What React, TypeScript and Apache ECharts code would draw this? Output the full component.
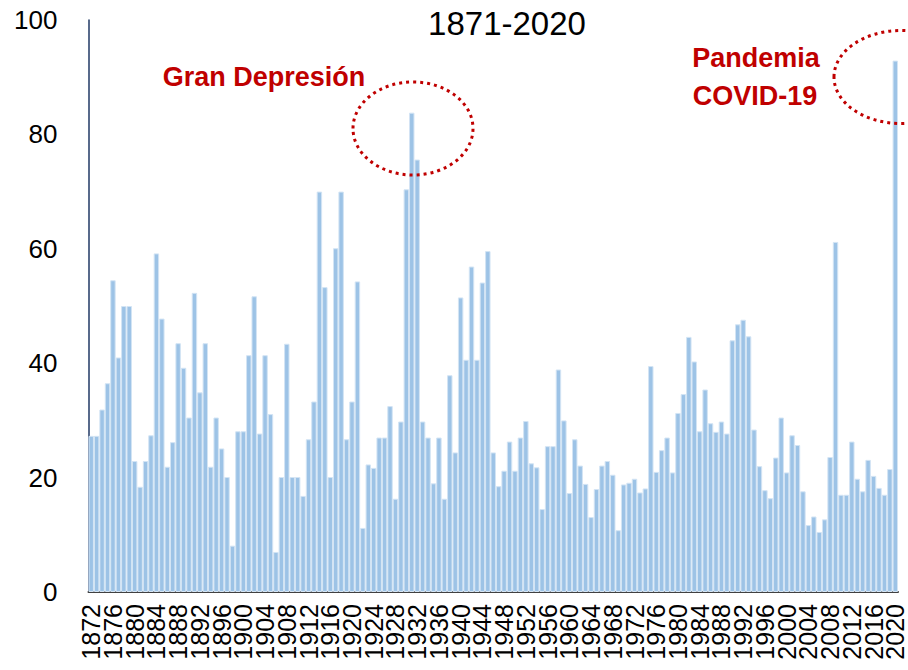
import React, { useEffect, useRef } from "react";
import * as echarts from "echarts";

const FIRST_YEAR = 1872;
const LAST_YEAR = 2020;
const years: string[] = [];
for (let y = FIRST_YEAR; y <= LAST_YEAR; y++) years.push(String(y));
const LABEL_STEP = 4;

// Share of economies (%) per year, 1872-2020
const values1870s = [27.3, 27.3, 31.9, 36.5, 54.5, 41.0, 50.0, 50.0];
const values1880s = [22.9, 18.4, 22.9, 27.4, 59.2, 47.8, 21.9, 26.2, 43.5, 39.2];
const values1890s = [30.5, 52.3, 34.9, 43.5, 21.9, 30.5, 25.1, 20.1, 8.1, 28.1];
const values1900s = [28.1, 41.4, 51.7, 27.7, 41.4, 31.1, 7.0, 20.1, 43.4, 20.1];
const values1910s = [20.1, 16.8, 26.7, 33.3, 70.0, 53.3, 20.1, 60.1, 70.0, 26.7];
const values1920s = [33.3, 54.3, 11.2, 22.3, 21.7, 27.0, 27.0, 32.5, 16.3, 29.8];
const values1930s = [70.4, 83.8, 75.6, 29.8, 27.0, 19.0, 27.0, 16.3, 37.9, 24.4];
const values1940s = [51.5, 40.6, 56.9, 40.6, 54.1, 59.6, 24.4, 18.5, 21.2, 26.3];
const values1950s = [21.2, 27.0, 29.9, 22.5, 21.8, 14.5, 25.5, 25.5, 38.9, 30.0];
const values1960s = [17.3, 26.7, 22.1, 18.9, 13.1, 18.0, 22.1, 22.9, 20.5, 10.8];
const values1970s = [18.8, 19.1, 19.8, 17.4, 18.1, 39.5, 21.0, 24.8, 27.0, 20.9];
const values1980s = [31.3, 34.6, 44.6, 40.3, 28.1, 35.4, 29.5, 28.0, 29.8, 27.7];
const values1990s = [44.0, 46.8, 47.6, 44.7, 28.4, 22.0, 17.8, 16.4, 23.5, 30.5];
const values2000s = [20.9, 27.4, 25.7, 17.6, 11.7, 13.2, 10.5, 12.7, 23.6, 61.2];
const values2010s = [17.0, 17.0, 26.3, 19.8, 17.6, 23.1, 20.3, 18.2, 17.0, 21.5];
const values2020s = [92.9];

const values: number[] = [
  ...values1870s, ...values1880s, ...values1890s, ...values1900s, ...values1910s,
  ...values1920s, ...values1930s, ...values1940s, ...values1950s, ...values1960s,
  ...values1970s, ...values1980s, ...values1990s, ...values2000s, ...values2010s,
  ...values2020s,
];

const yTicks = { min: 0, max: 100, interval: 20 };
const titleText = "1871-2020";
const annotation1 = "Gran Depresión";
const annotation2a = "Pandemia";
const annotation2b = "COVID-19";

const FONT = '"Liberation Sans", Arial, sans-serif';
const RED = "#C00000";

export default function App() {
  const ref = useRef<HTMLDivElement>(null);
  useEffect(() => {
    const chart = echarts.init(ref.current!, null, { renderer: "svg" });
    chart.setOption({
      animation: false,
      backgroundColor: "#ffffff",
      grid: { left: 88.5, right: 10, top: 20, bottom: 78, containLabel: false },
      xAxis: {
        type: "category",
        data: years,
        axisLine: { show: true, lineStyle: { color: "#404040", width: 2 } },
        axisTick: { show: false },
        axisLabel: {
          interval: 0,
          formatter: (v: string, i: number) => (i % LABEL_STEP === 0 ? v : ""),
          rotate: 90,
          fontSize: 25,
          lineHeight: 17,
          color: "#000",
          fontFamily: FONT,
          margin: 12,
          showMinLabel: true,
          showMaxLabel: true,
          hideOverlap: false,
        },
      },
      yAxis: {
        type: "value",
        min: yTicks.min,
        max: yTicks.max,
        interval: yTicks.interval,
        splitLine: { show: false },
        axisLine: { show: true, lineStyle: { color: "#203864", width: 1.5 } },
        axisTick: { show: false },
        axisLabel: { fontSize: 26, color: "#000", fontFamily: FONT, margin: 31 },
      },
      series: [
        {
          type: "bar",
          data: values,
          barCategoryGap: "0%",
          itemStyle: { color: "#9DC3E6", borderColor: "#D3E4F4", borderWidth: 1 },
        },
      ],
      graphic: [
        {
          type: "text",
          x: 507,
          y: 23,
          style: {
            text: titleText,
            fill: "#000",
            fontSize: 33,
            fontFamily: FONT,
            align: "center",
            verticalAlign: "middle",
          },
        },
        {
          type: "text",
          x: 264,
          y: 77,
          style: {
            text: annotation1,
            fill: RED,
            fontSize: 27,
            fontWeight: "bold",
            fontFamily: FONT,
            align: "center",
            verticalAlign: "middle",
          },
        },
        {
          type: "text",
          x: 756,
          y: 58,
          style: {
            text: annotation2a,
            fill: RED,
            fontSize: 27,
            fontWeight: "bold",
            fontFamily: FONT,
            align: "center",
            verticalAlign: "middle",
          },
        },
        {
          type: "text",
          x: 755,
          y: 96,
          style: {
            text: annotation2b,
            fill: RED,
            fontSize: 27,
            fontWeight: "bold",
            fontFamily: FONT,
            align: "center",
            verticalAlign: "middle",
          },
        },
        {
          type: "ellipse",
          shape: { cx: 413, cy: 128.5, rx: 60, ry: 46.5 },
          style: { fill: "none", stroke: RED, lineWidth: 3, lineDash: [3, 4] },
          z: 100,
        },
        {
          type: "ellipse",
          shape: { cx: 901, cy: 77, rx: 67, ry: 46.5 },
          style: { fill: "none", stroke: RED, lineWidth: 3, lineDash: [3, 4] },
          z: 100,
        },
      ],
    });
    return () => chart.dispose();
  }, []);
  return (
    <div
      ref={ref}
      style={{ position: "fixed", left: 0, top: 0, width: 908, height: 670 }}
    />
  );
}
